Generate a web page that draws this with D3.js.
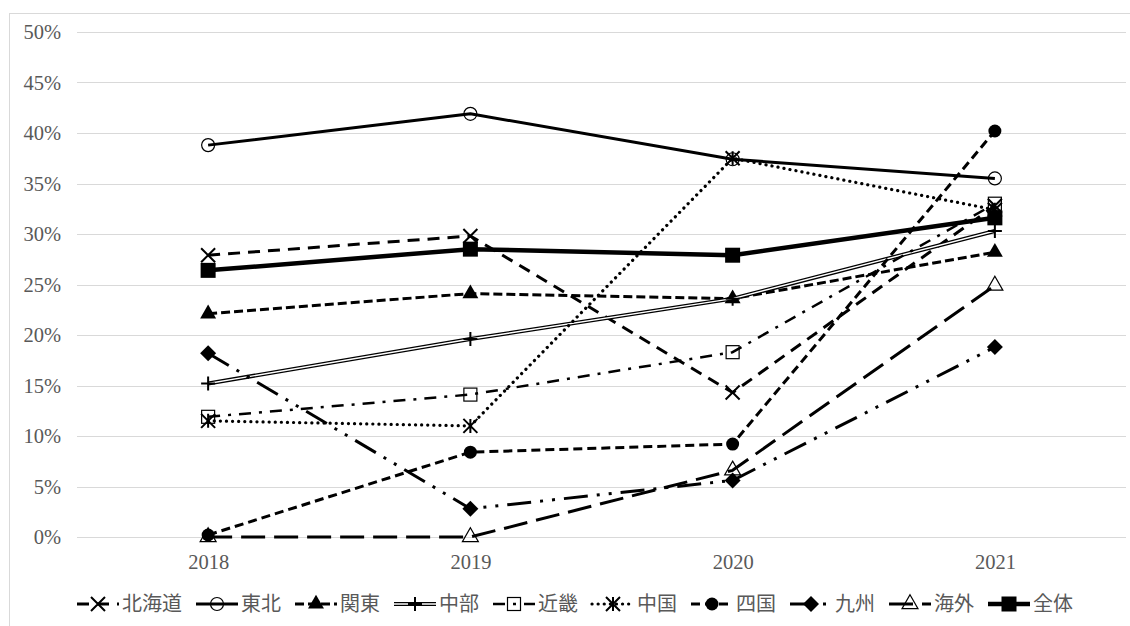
<!DOCTYPE html>
<html><head><meta charset="utf-8">
<script src="https://cdn.jsdelivr.net/npm/d3@7"></script>
<style>
html,body{margin:0;padding:0;background:#fff;}
svg{display:block;}
</style></head>
<body>
<svg id="chart" width="1130" height="626"></svg>
<script>
const categories = ["2018","2019","2020","2021"];
const yTicks = [0,5,10,15,20,25,30,35,40,45,50];
const seriesNames = ["北海道","東北","関東","中部","近畿","中国","四国","九州","海外","全体"];
const hokkaido = [27.9, 29.8, 14.3, 32.8];
const tohoku   = [38.8, 41.9, 37.4, 35.5];
const kanto    = [22.1, 24.1, 23.6, 28.2];
const chubu    = [15.2, 19.6, 23.6, 30.3];
const kinki    = [11.9, 14.1, 18.3, 33.0];
const chugoku  = [11.5, 11.0, 37.5, 32.4];
const shikoku  = [0.2, 8.4, 9.2, 40.2];
const kyushu   = [18.2, 2.8, 5.6, 18.8];
const kaigai   = [0.0, 0.0, 6.6, 24.9];
const zentai   = [26.4, 28.5, 27.9, 31.6];

const values = [hokkaido, tohoku, kanto, chubu, kinki, chugoku, shikoku, kyushu, kaigai, zentai];

// styles per series
const styles = [
  {w:3,   dash:"12,8",  cap:"butt",  marker:"x"},
  {w:3,   dash:null,    cap:"butt",  marker:"circleOpen"},
  {w:3,   dash:"9,4",   cap:"butt",  marker:"triFill"},
  {w:4,   dash:null,    cap:"butt",  marker:"plus", dbl:true},
  {w:2.5, dash:"12,8,3,8", cap:"butt", marker:"squareOpen"},
  {w:3.2, dash:"0.1,6", cap:"round", marker:"star"},
  {w:3,   dash:"9,5",   cap:"butt",  marker:"circleFill"},
  {w:3,   dash:"24,9,3,9,3,9", cap:"butt", marker:"diamond"},
  {w:3,   dash:"24,9",  cap:"butt",  marker:"triOpen"},
  {w:4.5, dash:null,    cap:"butt",  marker:"squareFill"}
];

const svg = d3.select("#chart");

// outer frame
svg.append("rect").attr("x",9.5).attr("y",13.5).attr("width",1140).attr("height",640)
  .attr("fill","none").attr("stroke","#d9d9d9").attr("stroke-width",1);

const x = d3.scalePoint().domain(categories).range([77,1126]).padding(0.5);
const y = d3.scaleLinear().domain([0,50]).range([537,32]);

// gridlines
svg.append("g").selectAll("line").data(yTicks).join("line")
  .attr("x1",77).attr("x2",1126)
  .attr("y1",d=>Math.round(y(d))+0.5).attr("y2",d=>Math.round(y(d))+0.5)
  .attr("stroke","#d9d9d9").attr("stroke-width",1);

// y axis labels
const yAxis = d3.axisLeft(y).tickValues(yTicks).tickFormat(d=>d+"%").tickSize(0).tickPadding(0);
const gy = svg.append("g").attr("transform","translate(61,0)").call(yAxis);
gy.select(".domain").remove();
gy.selectAll("text").attr("font-family","'Liberation Serif','Times New Roman',serif")
  .attr("font-size",20.5).attr("fill","#595959");

// x axis labels
const xAxis = d3.axisBottom(x).tickSize(0).tickPadding(0);
const gx = svg.append("g").attr("transform","translate(0,554)").call(xAxis);
gx.select(".domain").remove();
gx.selectAll("text").attr("font-family","'Liberation Serif','Times New Roman',serif")
  .attr("font-size",20.5).attr("fill","#595959");

function markerPath(type, s){
  const p = d3.path();
  const h = s/2;
  if(type==="x"){ p.moveTo(-h,-h); p.lineTo(h,h); p.moveTo(h,-h); p.lineTo(-h,h); }
  else if(type==="plus"){ p.moveTo(-h,0); p.lineTo(h,0); p.moveTo(0,-h); p.lineTo(0,h); }
  else if(type==="star"){ p.moveTo(-h,-h); p.lineTo(h,h); p.moveTo(h,-h); p.lineTo(-h,h); p.moveTo(0,-h); p.lineTo(0,h); }
  else if(type==="diamond"){ p.moveTo(0,-h); p.lineTo(h,0); p.lineTo(0,h); p.lineTo(-h,0); p.closePath(); }
  return p.toString();
}

function drawMarker(g, type){
  const black="#000";
  switch(type){
    case "x": g.append("path").attr("d",markerPath("x",14)).attr("stroke",black).attr("stroke-width",2).attr("fill","none"); break;
    case "plus": g.append("path").attr("d",markerPath("plus",14)).attr("stroke",black).attr("stroke-width",2).attr("fill","none"); break;
    case "star": g.append("path").attr("d",markerPath("star",14)).attr("stroke",black).attr("stroke-width",2).attr("fill","none"); break;
    case "circleOpen": g.append("circle").attr("r",6.5).attr("fill","none").attr("stroke",black).attr("stroke-width",1.2); break;
    case "circleFill": g.append("circle").attr("r",6.5).attr("fill",black); break;
    case "triFill": g.append("path").attr("d",d3.symbol(d3.symbolTriangle,110)()).attr("fill",black); break;
    case "triOpen": g.append("path").attr("d",d3.symbol(d3.symbolTriangle,110)()).attr("fill","none").attr("stroke",black).attr("stroke-width",1.2); break;
    case "squareOpen": g.append("rect").attr("x",-6.5).attr("y",-6.5).attr("width",13).attr("height",13).attr("fill","none").attr("stroke",black).attr("stroke-width",1.2); break;
    case "squareFill": g.append("rect").attr("x",-7.5).attr("y",-7.5).attr("width",15).attr("height",15).attr("fill",black); break;
    case "diamond": g.append("path").attr("d",markerPath("diamond",16)).attr("fill",black); break;
  }
}

function styleLine(sel, st, white){
  sel.attr("fill","none").attr("stroke", white? "#fff":"#000")
    .attr("stroke-width", white? 1.4 : st.w)
    .attr("stroke-linecap", st.cap).attr("stroke-linejoin","round");
  if(st.dash && !white) sel.attr("stroke-dasharray", st.dash);
}

const line = d3.line().x((d,i)=>x(categories[i])).y(d=>y(d));
const plot = svg.append("g");
values.forEach((vals,si)=>{
  const st = styles[si];
  const g = plot.append("g");
  g.append("path").attr("d",line(vals)).call(styleLine, st, false);
  if(st.dbl) g.append("path").attr("d",line(vals)).call(styleLine, st, true);
  vals.forEach((v,i)=>{
    const mg = g.append("g").attr("transform",`translate(${x(categories[i])},${y(v)})`);
    drawMarker(mg, st.marker);
  });
});

// legend
const leg = svg.append("g");
const legY = 604;
let cx = 0;
seriesNames.forEach((name,si)=>{
  const st = styles[si];
  const g = leg.append("g").attr("transform",`translate(${cx},${legY})`);
  g.append("path").attr("d","M0,0L42,0").call(styleLine, st, false);
  if(st.dbl) g.append("path").attr("d","M0,0L42,0").call(styleLine, st, true);
  const mg = g.append("g").attr("transform","translate(21,0)");
  drawMarker(mg, st.marker);
  const t = g.append("text").attr("x",45).attr("y",0).attr("dy","0.35em")
    .attr("font-family","'Noto Sans CJK JP','Noto Sans',sans-serif").attr("font-size",20)
    .attr("fill","#595959").text(name);
  const tw = t.node().getComputedTextLength();
  cx += 45 + tw + 14;
});
leg.attr("transform",`translate(${77},0)`);
</script>
</body></html>
